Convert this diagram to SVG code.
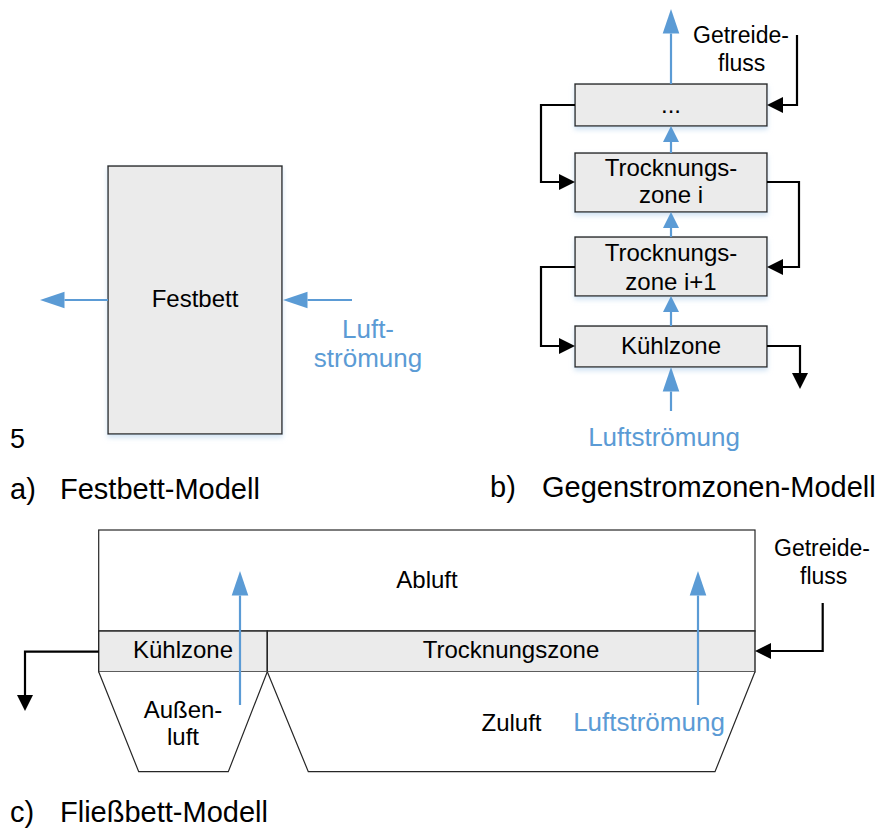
<svg xmlns="http://www.w3.org/2000/svg" width="877" height="837" viewBox="0 0 877 837">
<style>
text{font-family:"Liberation Sans",Arial,sans-serif;fill:#000}
.lbl{font-size:24px;text-anchor:middle}
.blue{font-size:26px;fill:#5b9bd5;text-anchor:middle}
.flow{font-size:23px}
.cap{font-size:29px}
.box{fill:#ebebeb;stroke:#262626;stroke-width:1.4}
.wbox{fill:#fff;stroke:#262626;stroke-width:1.2}
.bl{fill:none;stroke:#5b9bd5;stroke-width:2.2}
.bk{fill:none;stroke:#000;stroke-width:2.2}
</style>
<defs>
<filter id="sh" x="-10%" y="-10%" width="120%" height="130%">
<feDropShadow dx="0" dy="3" stdDeviation="2.5" flood-color="#bdd7ee" flood-opacity="0.7"/>
</filter>
<marker id="bBig" markerUnits="userSpaceOnUse" markerWidth="25" markerHeight="17" refX="0" refY="8.3" orient="auto" overflow="visible">
<path d="M0,0 L24.5,8.3 L0,16.6 z" fill="#5b9bd5"/>
</marker>
<marker id="bSm" markerUnits="userSpaceOnUse" markerWidth="16" markerHeight="16" refX="0" refY="8" orient="auto" overflow="visible">
<path d="M0,0 L16,8 L0,16 z" fill="#5b9bd5"/>
</marker>
<marker id="kH" markerUnits="userSpaceOnUse" markerWidth="16" markerHeight="16" refX="0" refY="8" orient="auto" overflow="visible">
<path d="M0,0 L16,8 L0,16 z" fill="#000"/>
</marker>
</defs>

<!-- a) Festbett -->
<g id="festbett">
<rect class="box" x="108" y="166" width="174" height="268" filter="url(#sh)"/>
<text class="lbl" x="195" y="307">Festbett</text>
</g>
<g id="a-luft">
<text class="blue" x="368" y="338">Luft-</text>
<text class="blue" x="368" y="367">strömung</text>
</g>
<text x="10" y="448" style="font-size:27px">5</text>
<g id="cap-a"><text class="cap" x="10" y="499">a)</text><text class="cap" x="60" y="499">Festbett-Modell</text></g>

<!-- b) Gegenstromzonen -->
<g id="zone-top">
<rect class="box" x="575" y="84" width="192" height="42" filter="url(#sh)"/>
<text class="lbl" x="671" y="113">...</text>
</g>
<g id="zone-i">
<rect class="box" x="575" y="153" width="192" height="59" filter="url(#sh)"/>
<text class="lbl" x="671" y="176">Trocknungs-</text>
<text class="lbl" x="671" y="203">zone i</text>
</g>
<g id="zone-i1">
<rect class="box" x="575" y="237" width="192" height="59" filter="url(#sh)"/>
<text class="lbl" x="671" y="261">Trocknungs-</text>
<text class="lbl" x="671" y="290">zone i+1</text>
</g>
<g id="kuehlzone-b">
<rect class="box" x="575" y="326" width="192" height="41" filter="url(#sh)"/>
<text class="lbl" x="671" y="354">Kühlzone</text>
</g>
<g id="b-labels">
<text class="flow" x="693" y="43">Getreide-</text>
<text class="flow" x="718" y="71">fluss</text>
<text class="blue" x="664" y="446">Luftströmung</text>
</g>
<g id="cap-b"><text class="cap" x="490" y="497">b)</text><text class="cap" x="542" y="497">Gegenstromzonen-Modell</text></g>

<!-- c) Fließbett -->
<g id="abluft">
<rect class="wbox" x="98.7" y="530" width="656.3" height="101"/>
<text class="lbl" x="427" y="588">Abluft</text>
</g>
<g id="kuehlzone-c">
<rect class="box" x="98.7" y="631" width="168.6" height="40.7"/>
<text class="lbl" x="183" y="658">Kühlzone</text>
</g>
<g id="trocknungszone-c">
<rect class="box" x="267.3" y="631" width="487.7" height="40.7"/>
<text class="lbl" x="511" y="658">Trocknungszone</text>
</g>
<g id="aussenluft">
<path class="wbox" d="M98.7,671.7 L138.7,771.7 L228.3,771.7 L267.3,671.7"/>
<text class="lbl" x="183" y="718">Außen-</text>
<text class="lbl" x="183" y="745">luft</text>
</g>
<g id="zuluft">
<path class="wbox" d="M267.3,671.7 L308.3,771.7 L715,771.7 L755,671.7"/>
<text class="lbl" x="511.5" y="731">Zuluft</text>
</g>
<g id="c-labels">
<text class="blue" x="649" y="731">Luftströmung</text>
<text class="flow" x="774" y="556">Getreide-</text>
<text class="flow" x="800" y="584">fluss</text>
</g>
<g id="cap-c"><text class="cap" x="10" y="822">c)</text><text class="cap" x="60" y="822">Fließbett-Modell</text></g>

<!-- connectors -->
<g id="connectors">
<line class="bl" x1="108" y1="300" x2="64.5" y2="300" marker-end="url(#bBig)"/>
<line class="bl" x1="352" y1="300" x2="307.5" y2="300" marker-end="url(#bBig)"/>

<line class="bl" x1="671" y1="84" x2="671" y2="33.5" marker-end="url(#bBig)"/>
<line class="bl" x1="671" y1="153" x2="671" y2="142" marker-end="url(#bSm)"/>
<line class="bl" x1="671" y1="237" x2="671" y2="228" marker-end="url(#bSm)"/>
<line class="bl" x1="671" y1="326" x2="671" y2="312" marker-end="url(#bSm)"/>
<line class="bl" x1="671" y1="411" x2="671" y2="391.5" marker-end="url(#bBig)"/>

<path class="bk" d="M797,35 V105 H783" marker-end="url(#kH)"/>
<path class="bk" d="M575,105 H541 V182 H559" marker-end="url(#kH)"/>
<path class="bk" d="M767,182 H799 V267 H783" marker-end="url(#kH)"/>
<path class="bk" d="M575,267 H541 V346 H559" marker-end="url(#kH)"/>
<path class="bk" d="M767,346 H800 V373" marker-end="url(#kH)"/>

<line class="bl" x1="240" y1="705" x2="240" y2="595.5" marker-end="url(#bBig)"/>
<line class="bl" x1="698" y1="705" x2="698" y2="595.5" marker-end="url(#bBig)"/>
<path class="bk" d="M822.7,603 V651 H771" marker-end="url(#kH)"/>
<path class="bk" d="M98.7,651.7 H25 V695" marker-end="url(#kH)"/>
</g>
</svg>
